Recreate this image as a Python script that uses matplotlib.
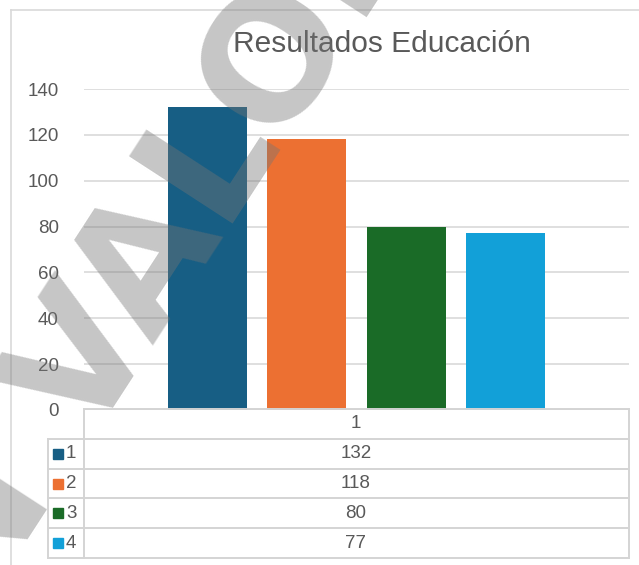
import numpy as np
import matplotlib
matplotlib.use("Agg")
import matplotlib.pyplot as plt
from matplotlib.patches import Rectangle

# ---- data ----
title = "Resultados Educación"
category = ["1"]
series = ["1", "2", "3", "4"]
values = [132, 118, 80, 77]
colors = ["#175E84", "#EC7032", "#1A6B27", "#12A0D8"]
yticks = [0, 20, 40, 60, 80, 100, 120, 140]
watermark = "SIN VALOR"

W, H = 639, 565
plt.rcParams['font.family'] = ['Liberation Sans', 'DejaVu Sans']
TXT = "#595959"
GRID = "#D9D9D9"

fig = plt.figure(figsize=(W / 100, H / 100), dpi=100)

# plot area (pixel layout)
ax_l, ax_r, ax_t, ax_b = 84, 629, 89, 410
ax = fig.add_axes([ax_l / W, 1 - ax_b / H, (ax_r - ax_l) / W, (ax_b - ax_t) / H])
ax.set_xlim(-0.5, 0.5)
ax.set_ylim(0, 140)
step = 0.1817
bw = 0.145
xs = (np.arange(len(values)) - (len(values) - 1) / 2) * step
ax.bar(xs, values, width=bw, color=colors, zorder=3)
ax.set_yticks(yticks)
ax.set_yticklabels([str(t) for t in yticks], fontsize=13.5, color=TXT)
ax.tick_params(axis='y', length=0, pad=18)
ax.set_xticks([])
ax.grid(axis='y', color=GRID, linewidth=1.2, zorder=0)
for s in ax.spines.values():
    s.set_visible(False)

# overlay in pixel coordinates
ov = fig.add_axes([0, 0, 1, 1], zorder=5)
ov.set_xlim(0, W)
ov.set_ylim(H, 0)
ov.axis('off')
ov.patch.set_alpha(0)

# chart frame
ov.plot([11, 11], [10, H + 5], color=GRID, lw=1.2)
ov.plot([11, W + 5], [10, 10], color=GRID, lw=1.2)

# title
ov.text(382, 44, title, ha='center', va='center', fontsize=21.5, color=TXT)

# data table
t_left, t_div, t_right = 48, 84, 629
rows_y = [409, 439, 469, 498, 528, 558]
lc = "#D4D4D4"
ov.plot([t_div, t_right], [rows_y[0], rows_y[0]], color=lc, lw=1.4)
for y in rows_y[1:]:
    ov.plot([t_left, t_right], [y, y], color=lc, lw=1.4)
ov.plot([t_left, t_left], [rows_y[1], rows_y[-1]], color=lc, lw=1.4)
ov.plot([t_div, t_div], [rows_y[0], rows_y[-1]], color=lc, lw=1.4)
ov.plot([t_right, t_right], [rows_y[0], rows_y[-1]], color=lc, lw=1.4)

cx = 356
ov.text(cx, (rows_y[0] + rows_y[1]) / 2, category[0], ha='center', va='center',
        fontsize=13.5, color=TXT)
for i, (name, v, c) in enumerate(zip(series, values, colors)):
    yc = (rows_y[i + 1] + rows_y[i + 2]) / 2
    ov.add_patch(Rectangle((53, yc - 5), 10, 10, color=c))
    ov.text(66, yc, name, ha='left', va='center', fontsize=13.5, color=TXT)
    ov.text(cx, yc, str(v), ha='center', va='center', fontsize=13.5, color=TXT)

# watermark
ov.text(-122, 770, watermark, rotation=57, rotation_mode='anchor',
        ha='left', va='baseline', fontsize=122, fontweight='bold',
        family='DejaVu Sans', color='#757575', alpha=0.41, zorder=10)

fig.savefig("out.png", dpi=100)
